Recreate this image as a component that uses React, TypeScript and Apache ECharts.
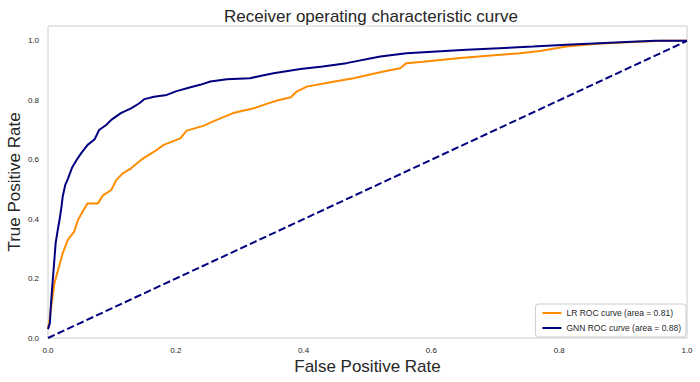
import React, { useEffect, useRef } from "react";
import * as echarts from "echarts";

const chartTitle = "Receiver operating characteristic curve";
const xAxisName = "False Positive Rate";
const yAxisName = "True Positive Rate";
const lrName = "LR ROC curve (area = 0.81)";
const gnnName = "GNN ROC curve (area = 0.88)";

const gnnFpr = [0, 0.003, 0.004, 0.0065, 0.0075, 0.012, 0.015, 0.018, 0.021, 0.023, 0.027, 0.031, 0.038, 0.045, 0.052, 0.062, 0.073, 0.08, 0.091, 0.099, 0.114, 0.13, 0.143, 0.151, 0.166, 0.186, 0.2, 0.223, 0.238, 0.254, 0.28, 0.316, 0.332, 0.353, 0.395, 0.43, 0.467, 0.52, 0.561, 0.655, 0.759, 0.811, 0.905, 0.95, 1.0];
const gnnTpr = [0.03, 0.05, 0.094, 0.17, 0.195, 0.32, 0.36, 0.397, 0.44, 0.476, 0.515, 0.535, 0.575, 0.6, 0.622, 0.65, 0.669, 0.7, 0.717, 0.734, 0.757, 0.773, 0.79, 0.804, 0.812, 0.818, 0.83, 0.844, 0.852, 0.863, 0.871, 0.874, 0.882, 0.891, 0.905, 0.914, 0.925, 0.947, 0.958, 0.97, 0.981, 0.987, 0.996, 1.0, 1.0];

const lrFpr = [0, 0.003, 0.005, 0.01, 0.015, 0.023, 0.031, 0.041, 0.047, 0.054, 0.062, 0.078, 0.086, 0.099, 0.107, 0.117, 0.13, 0.146, 0.166, 0.181, 0.207, 0.217, 0.243, 0.264, 0.29, 0.322, 0.348, 0.36, 0.38, 0.389, 0.405, 0.44, 0.478, 0.525, 0.551, 0.561, 0.587, 0.645, 0.738, 0.77, 0.811, 0.86, 0.915, 0.962, 1.0];
const lrTpr = [0.03, 0.07, 0.105, 0.184, 0.223, 0.285, 0.33, 0.358, 0.397, 0.425, 0.453, 0.453, 0.48, 0.498, 0.532, 0.554, 0.571, 0.6, 0.627, 0.65, 0.672, 0.698, 0.714, 0.734, 0.757, 0.773, 0.792, 0.8, 0.81, 0.829, 0.846, 0.86, 0.874, 0.897, 0.908, 0.925, 0.93, 0.942, 0.958, 0.966, 0.981, 0.99, 0.996, 1.0, 1.0];

const chanceX = [0, 1];
const chanceY = [0, 1];

const FONT = "'Liberation Sans', Arial, sans-serif";
const TXT = "#262626";

const zip = (a: number[], b: number[]) => a.map((v, i) => [v, b[i]]);

export default function App() {
  const ref = useRef<HTMLDivElement>(null);
  useEffect(() => {
    if (!ref.current) return;
    const chart = echarts.init(ref.current, undefined, { renderer: "svg" });
    chart.setOption({
      animation: false,
      backgroundColor: "#ffffff",
      textStyle: { fontFamily: FONT },
      title: {
        text: chartTitle,
        left: 366,
        top: 3,
        textAlign: "center",
        textStyle: { fontFamily: FONT, fontSize: 17, fontWeight: "normal", color: TXT },
      },
      grid: {
        left: 48,
        right: 13,
        top: 26,
        bottom: 44,
        containLabel: false,
        outerBoundsMode: "none",
        show: true,
        borderColor: "#cccccc",
        borderWidth: 1,
        backgroundColor: "transparent",
      },
      legend: {
        data: [lrName, gnnName],
        orient: "vertical",
        right: 14,
        bottom: 45,
        icon: "rect",
        itemWidth: 19,
        itemHeight: 2,
        itemGap: 5,
        padding: [4, 5, 4, 7],
        borderColor: "#cccccc",
        borderWidth: 1,
        borderRadius: 3,
        backgroundColor: "#ffffff",
        textStyle: { fontFamily: FONT, fontSize: 8.5, color: TXT, lineHeight: 10 },
      },
      xAxis: {
        type: "value",
        min: 0,
        max: 1,
        interval: 0.2,
        name: xAxisName,
        nameLocation: "middle",
        nameGap: 20,
        nameMoveOverlap: false,
        nameTextStyle: { fontFamily: FONT, fontSize: 17, color: TXT },
        axisLine: { show: false },
        axisTick: { show: false },
        splitLine: { show: false },
        axisLabel: {
          fontFamily: FONT,
          fontSize: 8,
          color: TXT,
          margin: 8,
          formatter: (v: number) => v.toFixed(1),
        },
      },
      yAxis: {
        type: "value",
        min: 0,
        max: 1.05,
        interval: 0.2,
        name: yAxisName,
        nameLocation: "middle",
        nameGap: 25,
        nameMoveOverlap: false,
        nameTextStyle: { fontFamily: FONT, fontSize: 17, color: TXT },
        axisLine: { show: false },
        axisTick: { show: false },
        splitLine: { show: false },
        axisLabel: {
          fontFamily: FONT,
          fontSize: 8,
          color: TXT,
          margin: 9,
          formatter: (v: number) =>
            Math.abs(v * 5 - Math.round(v * 5)) < 1e-6 ? v.toFixed(1) : "",
        },
      },
      series: [
        {
          name: lrName,
          type: "line",
          data: zip(lrFpr, lrTpr),
          showSymbol: false,
          symbol: "none",
          lineStyle: { color: "#ff8c00", width: 2 },
          itemStyle: { color: "#ff8c00" },
        },
        {
          name: gnnName,
          type: "line",
          data: zip(gnnFpr, gnnTpr),
          showSymbol: false,
          symbol: "none",
          lineStyle: { color: "#000080", width: 2 },
          itemStyle: { color: "#000080" },
        },
        {
          name: "chance",
          type: "line",
          data: zip(chanceX, chanceY),
          showSymbol: false,
          symbol: "none",
          lineStyle: { color: "#000080", width: 2, type: [7.4, 3.2] },
          itemStyle: { color: "#000080" },
        },
      ],
    });
    return () => chart.dispose();
  }, []);
  return (
    <div
      ref={ref}
      style={{ position: "absolute", left: 0, top: 0, width: 700, height: 382 }}
    />
  );
}
